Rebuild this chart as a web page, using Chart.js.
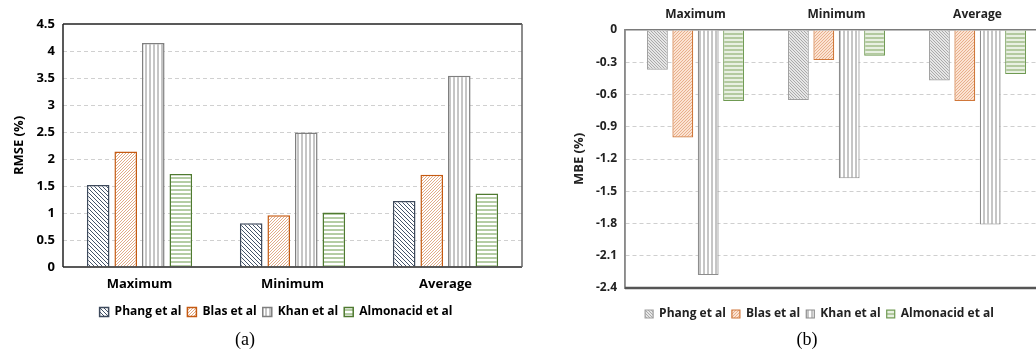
<!DOCTYPE html>
<html>
<head>
<meta charset="utf-8">
<script src="https://cdn.jsdelivr.net/npm/chart.js@4.4.0/dist/chart.umd.min.js"></script>
<style>
  body { margin: 0; width: 1036px; height: 354px; overflow: hidden; background: #fff; position: relative; }
  #chartA { position: absolute; left: 0; top: 0; }
  #chartB { position: absolute; left: 530px; top: 0; }
  .cap { position: absolute; top: 329px; width: 60px; text-align: center; font: 18px "Liberation Serif", serif; color: #000; }
</style>
</head>
<body>
<canvas id="chartA" width="530" height="332"></canvas>
<canvas id="chartB" width="530" height="334"></canvas>
<div class="cap" style="left:215px">(a)</div>
<div class="cap" style="left:777px">(b)</div>
<script>
// categorieen en reeksen
const categories = ["Maximum", "Minimum", "Average"];
const seriesNames = ["Phang et al", "Blas et al", "Khan et al", "Almonacid et al"];

// (a) RMSE (%)
const rmsePhang = [1.52, 0.81, 1.22];
const rmseBlas = [2.14, 0.96, 1.71];
const rmseKhan = [4.15, 2.49, 3.54];
const rmseAlmonacid = [1.72, 1.01, 1.36];
const rmseMin = 0, rmseMax = 4.5, rmseStep = 0.5;

// (b) MBE (%)
const mbePhang = [-0.37, -0.65, -0.47];
const mbeBlas = [-1.00, -0.28, -0.66];
const mbeKhan = [-2.28, -1.38, -1.81];
const mbeAlmonacid = [-0.66, -0.24, -0.41];
const mbeMin = -2.4, mbeMax = 0, mbeStep = 0.3;

Chart.defaults.font.family = "'Open Sans', sans-serif";
Chart.defaults.font.weight = "bold";
Chart.defaults.font.size = 12;
Chart.defaults.color = "#000";

// arcering voor de staven
function hatch(bg, fg, kind, size, lw) {
  const c = document.createElement("canvas");
  c.width = size; c.height = size;
  const g = c.getContext("2d");
  g.fillStyle = bg;
  g.fillRect(0, 0, size, size);
  g.strokeStyle = fg;
  g.lineWidth = lw;
  g.beginPath();
  if (kind === "v") { g.moveTo(size / 2, 0); g.lineTo(size / 2, size); }
  if (kind === "h") { g.moveTo(0, size / 2); g.lineTo(size, size / 2); }
  if (kind === "fwd") {
    g.moveTo(0, size); g.lineTo(size, 0);
    g.moveTo(-size / 2, size / 2); g.lineTo(size / 2, -size / 2);
    g.moveTo(size / 2, size * 1.5); g.lineTo(size * 1.5, size / 2);
  }
  if (kind === "back") {
    g.moveTo(0, 0); g.lineTo(size, size);
    g.moveTo(-size / 2, size / 2); g.lineTo(size / 2, size * 1.5);
    g.moveTo(size / 2, -size / 2); g.lineTo(size * 1.5, size / 2);
  }
  g.stroke();
  return g.createPattern(c, "repeat");
}

// lijnen rond het plotgebied
const framePlugin = {
  id: "frame",
  afterDraw(chart, args, opts) {
    const { ctx, chartArea: a } = chart;
    ctx.save();
    (opts.sides || []).forEach(s => {
      ctx.strokeStyle = s.color;
      ctx.lineWidth = s.width;
      ctx.beginPath();
      if (s.side === "top") { ctx.moveTo(a.left, a.top); ctx.lineTo(a.right, a.top); }
      if (s.side === "bottom") { ctx.moveTo(a.left, a.bottom); ctx.lineTo(a.right, a.bottom); }
      if (s.side === "left") { ctx.moveTo(a.left, a.top); ctx.lineTo(a.left, a.bottom); }
      if (s.side === "right") { ctx.moveTo(a.right, a.top); ctx.lineTo(a.right, a.bottom); }
      ctx.stroke();
    });
    ctx.restore();
  }
};

function tickText(v) {
  const r = Math.round(v * 10) / 10;
  return r === 0 ? "0" : String(r);
}

function makeSet(label, data, fill, border, bw) {
  return {
    label: label,
    data: data,
    backgroundColor: fill,
    borderColor: border,
    borderWidth: bw,
    categoryPercentage: 0.72,
    barPercentage: 0.82
  };
}

// grafiek (a)
const fillsA = [
  hatch("#ffffff", "#44546a", "back", 4, 1),
  hatch("#ffffff", "#d9956a", "fwd", 3, 0.8),
  hatch("#ffffff", "#8c8c8c", "v", 4, 1),
  hatch("#ffffff", "#6a9a4a", "h", 4, 1)
];
const bordersA = ["#3e4a5c", "#c55a11", "#7f7f7f", "#4f7a30"];
const valuesA = [rmsePhang, rmseBlas, rmseKhan, rmseAlmonacid];

new Chart(document.getElementById("chartA"), {
  type: "bar",
  data: {
    labels: categories,
    datasets: seriesNames.map((n, i) => makeSet(n, valuesA[i], fillsA[i], bordersA[i], 1.5))
  },
  options: {
    responsive: false,
    animation: false,
    layout: { padding: { left: 30, right: 8, top: 24, bottom: 4 } },
    scales: {
      x: {
        grid: { display: false },
        border: { display: false },
        ticks: { padding: 1, color: "#000", font: { size: 13 } },
        afterFit: s => { s.height = 33; }
      },
      y: {
        min: rmseMin, max: rmseMax,
        ticks: { stepSize: rmseStep, padding: 8, color: "#000", font: { size: 13 }, callback: tickText },
        grid: {
          drawTicks: false,
          color: c => (c.tick.value === rmseMin || c.tick.value === rmseMax) ? "rgba(0,0,0,0)" : "#d0d0d0"
        },
        border: { display: false, dash: [4, 3] },
        title: { display: true, text: "RMSE (%)", color: "#000", font: { size: 13 }, padding: { top: -19, bottom: 0 } },
        afterFit: s => { s.width = 33; }
      }
    },
    plugins: {
      legend: {
        position: "bottom",
        labels: { boxWidth: 9, boxHeight: 9, padding: 6, color: "#000" }
      },
      tooltip: { enabled: false },
      frame: {
        sides: [
          { side: "top", color: "#222", width: 1.5 },
          { side: "left", color: "#222", width: 1.5 },
          { side: "bottom", color: "#222", width: 1.5 },
          { side: "right", color: "#666", width: 1.5 }
        ]
      }
    }
  },
  plugins: [framePlugin]
});

// grafiek (b)
const fillsB = [
  hatch("#e6e6e6", "#9a9a9a", "back", 3, 0.8),
  hatch("#fbe3d2", "#e3a27a", "fwd", 3, 0.8),
  hatch("#ffffff", "#8c8c8c", "v", 4, 1),
  hatch("#e8f0e2", "#8fb174", "h", 4, 1.2)
];
const bordersB = ["#a0a0a0", "#d0773a", "#8c8c8c", "#6f9a52"];
const valuesB = [mbePhang, mbeBlas, mbeKhan, mbeAlmonacid];

new Chart(document.getElementById("chartB"), {
  type: "bar",
  data: {
    labels: categories,
    datasets: seriesNames.map((n, i) => makeSet(n, valuesB[i], fillsB[i], bordersB[i], 1.2))
  },
  options: {
    responsive: false,
    animation: false,
    layout: { padding: { left: 61, right: 12, top: 0, bottom: 4 } },
    scales: {
      x: {
        position: "top",
        grid: { display: false },
        border: { display: true, color: "#7a7a7a", width: 1.5 },
        ticks: { padding: 0, color: "#222" },
        afterFit: s => { s.height = 30; }
      },
      x2: {
        type: "category",
        labels: categories,
        position: "bottom",
        grid: { display: false },
        border: { display: false },
        ticks: { display: false },
        afterFit: s => { s.height = 14; }
      },
      y: {
        min: mbeMin, max: mbeMax,
        ticks: { stepSize: mbeStep, padding: 8, color: "#222", callback: tickText },
        grid: {
          drawTicks: false,
          color: c => (Math.abs(c.tick.value - mbeMin) < 1e-6 || Math.abs(c.tick.value) < 1e-6) ? "rgba(0,0,0,0)" : "#cfcfcf"
        },
        border: { display: true, color: "#8a8a8a", width: 1.5, dash: [4, 3] },
        title: { display: true, text: "MBE (%)", color: "#222", font: { size: 13 }, padding: { top: -20, bottom: 0 } },
        afterFit: s => { s.width = 34; }
      }
    },
    plugins: {
      legend: {
        position: "bottom",
        labels: { boxWidth: 8, boxHeight: 8, padding: 6, color: "#222" }
      },
      tooltip: { enabled: false },
      frame: {
        sides: [
          { side: "left", color: "#8a8a8a", width: 1.5 },
          { side: "bottom", color: "#555", width: 2.5 }
        ]
      }
    }
  },
  plugins: [framePlugin]
});
</script>
</body>
</html>
